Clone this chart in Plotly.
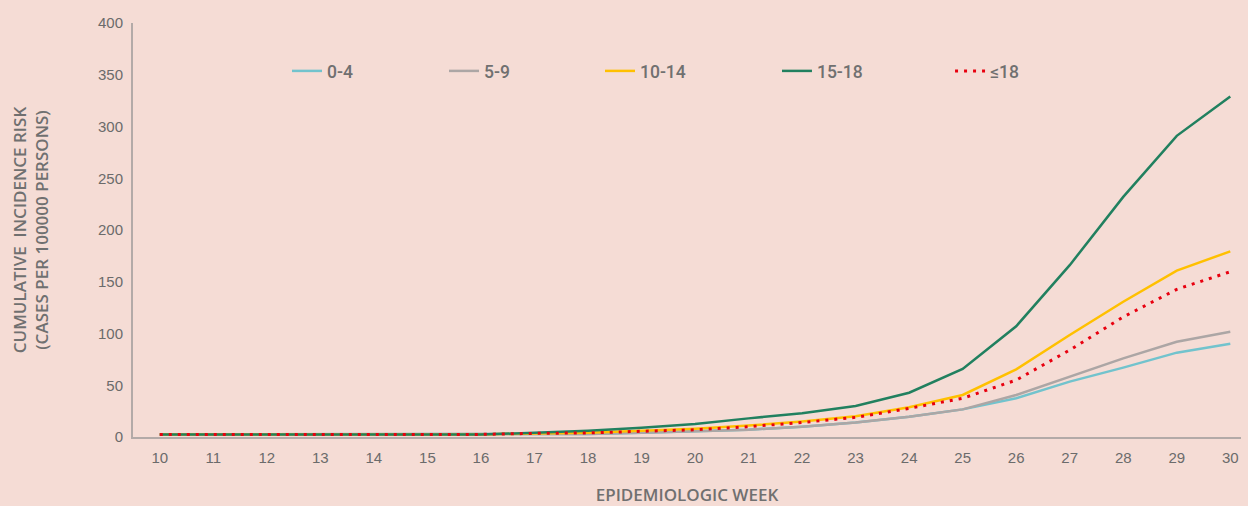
import plotly.graph_objects as go

weeks = list(range(10, 31))
age_0_4 = [2.5, 2.5, 2.5, 2.5, 2.5, 2.5, 2.5, 2.8, 3, 4, 5.5, 7, 10, 14, 19.6, 26.7, 37.4, 53.5, 67, 81.5, 90]
age_5_9 = [2.5, 2.5, 2.5, 2.5, 2.5, 2.5, 2.5, 2.8, 3, 4, 5.5, 7, 10, 14, 19.6, 26.7, 40.6, 58, 76, 92, 101.7]
age_10_14 = [2.5, 2.5, 2.5, 2.5, 2.5, 2.5, 2.5, 3.5, 4, 6, 8, 11, 15, 20, 28.7, 40.6, 65.4, 98.5, 130.7, 160.7, 179.4]
age_15_18 = [2.5, 2.5, 2.5, 2.5, 2.5, 2.5, 2.5, 4, 6, 9, 12.5, 18, 23, 30, 42.8, 65.7, 107, 166, 232, 291, 329]
age_le18 = [2.5, 2.5, 2.5, 2.5, 2.5, 2.5, 2.5, 3.5, 4, 5.5, 7, 10, 14, 19, 27.7, 37.4, 55, 84, 116, 142.7, 159.7]

series = [
    ("0-4", age_0_4, "#72c3cd", "solid", "legend"),
    ("5-9", age_5_9, "#aca6a5", "solid", "legend2"),
    ("10-14", age_10_14, "#ffc000", "solid", "legend3"),
    ("15-18", age_15_18, "#21805f", "solid", "legend4"),
    ("≤18", age_le18, "#e8000f", "3px,6px", "legend5"),
]

fig = go.Figure()
for name, vals, color, dash, lg in series:
    fig.add_trace(go.Scatter(
        x=weeks, y=vals, name=name, mode="lines",
        line=dict(color=color, width=3 if name == "≤18" else 2.5, dash=dash),
        legend=lg, hoverinfo="skip",
    ))

legend_font = dict(family="Roboto, Lato, sans-serif", size=17.5, color="#707070", weight=500)
leg_x = [0.139, 0.2807, 0.4215, 0.5812, 0.7374]
leg_common = dict(orientation="h", yanchor="middle", xanchor="left", y=0.884,
                  bgcolor="rgba(0,0,0,0)", font=legend_font)

tick_font = dict(family="Liberation Sans Narrow, Liberation Sans, Arial, sans-serif", size=15, color="#6b6b6b")
title_font = dict(family="Open Sans, sans-serif", size=17, color="#707070", weight=600)

fig.update_layout(
    width=1248, height=506,
    margin=dict(l=133, r=7, t=23, b=69, autoexpand=False),
    paper_bgcolor="#f5dcd5",
    plot_bgcolor="#f5dcd5",
    showlegend=True,
    legend=dict(x=leg_x[0], **leg_common),
    legend2=dict(x=leg_x[1], **leg_common),
    legend3=dict(x=leg_x[2], **leg_common),
    legend4=dict(x=leg_x[3], **leg_common),
    legend5=dict(x=leg_x[4], **leg_common),
    xaxis=dict(
        range=[9.5, 30.2], tickmode="linear", tick0=10, dtick=1,
        showgrid=False, zeroline=False, showline=True, linecolor="#b3aaa8", linewidth=2,
        ticks="", tickfont=tick_font, ticklabelstandoff=6,
        title=dict(text="EPIDEMIOLOGIC WEEK", font=title_font, standoff=27),
        automargin=False,
    ),
    yaxis=dict(
        range=[0, 400], tickmode="linear", tick0=0, dtick=50,
        showgrid=False, zeroline=False, showline=True, linecolor="#b3aaa8", linewidth=2,
        ticks="", tickfont=tick_font, ticklabelstandoff=5,
        title=dict(text="CUMULATIVE  INCIDENCE RISK<br>(CASES PER 100000 PERSONS)", font=title_font, standoff=45),
        automargin=False,
    ),
)

fig.write_html("out.html", config={"displayModeBar": False},
               post_script="document.body.style.margin='0';document.body.style.background='#f5dcd5';")
